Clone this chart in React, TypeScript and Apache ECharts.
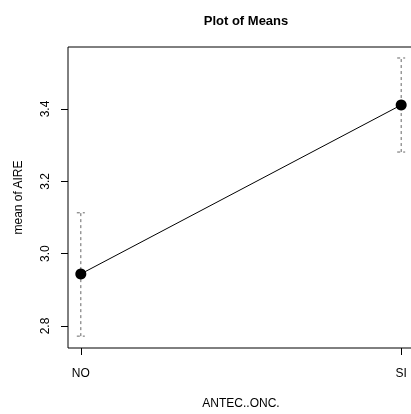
import React, { useEffect, useRef } from "react";
import * as echarts from "echarts";

const categories = ["NO", "SI"];
const means = [2.944, 3.411];
const lowerBounds = [2.772, 3.281];
const upperBounds = [3.113, 3.541];
const yTicks = [2.8, 3.0, 3.2, 3.4];

export default function App() {
  const ref = useRef<HTMLDivElement>(null);
  useEffect(() => {
    if (!ref.current) return;
    const chart = echarts.init(ref.current, null, { renderer: "svg" });
    const font = "'Liberation Sans', Arial, Helvetica, sans-serif";
    const xs = categories.map((_, i) => i + 1);
    chart.setOption({
      animation: false,
      textStyle: { fontFamily: font },
      title: {
        text: "Plot of Means",
        left: 241,
        textAlign: "center",
        top: 9,
        textStyle: { fontFamily: font, fontSize: 13, fontWeight: "bold", color: "#000" },
      },
      grid: {
        left: 68,
        top: 47,
        width: 346,
        height: 301,
        outerBoundsMode: "none",
        containLabel: false,
        show: true,
        borderColor: "#000",
        borderWidth: 1,
        backgroundColor: "transparent",
      },
      xAxis: {
        type: "value",
        min: 0.96,
        max: 2.04,
        name: "ANTEC..ONC.",
        nameLocation: "middle",
        nameGap: 49,
        nameTextStyle: { fontFamily: font, fontSize: 12, color: "#000" },
        axisLine: { show: false },
        splitLine: { show: false },
        axisTick: { show: true, inside: false, length: 7, customValues: xs, lineStyle: { color: "#000" } },
        axisLabel: {
          show: true,
          customValues: xs,
          margin: 19,
          fontSize: 12,
          color: "#000",
          fontFamily: font,
          formatter: (v: number) => categories[Math.round(v) - 1] ?? "",
        },
      },
      yAxis: {
        type: "value",
        min: 2.7392,
        max: 3.5714,
        name: "mean of AIRE",
        nameLocation: "middle",
        nameGap: 44,
        nameRotate: 90,
        nameTextStyle: { fontFamily: font, fontSize: 12, color: "#000" },
        axisLine: { show: false },
        splitLine: { show: false },
        axisTick: { show: true, inside: false, length: 7, customValues: yTicks, lineStyle: { color: "#000" } },
        axisLabel: {
          show: true,
          customValues: yTicks,
          rotate: 90,
          margin: 17,
          fontSize: 12,
          color: "#000",
          fontFamily: font,
          formatter: (v: number) => v.toFixed(1),
        },
      },
      series: [
        {
          type: "custom",
          data: xs.map((x, i) => [x, lowerBounds[i], upperBounds[i]]),
          renderItem: (params: any, api: any) => {
            const x = api.value(0);
            const lo = api.coord([x, api.value(1)]);
            const hi = api.coord([x, api.value(2)]);
            const style = { stroke: "#666", lineWidth: 1, lineDash: [3, 3] };
            const cw = 4;
            return {
              type: "group",
              children: [
                { type: "line", shape: { x1: lo[0], y1: lo[1], x2: hi[0], y2: hi[1] }, style },
                { type: "line", shape: { x1: lo[0] - cw, y1: lo[1], x2: lo[0] + cw, y2: lo[1] }, style },
                { type: "line", shape: { x1: hi[0] - cw, y1: hi[1], x2: hi[0] + cw, y2: hi[1] }, style },
              ],
            };
          },
          z: 1,
        },
        {
          type: "line",
          data: xs.map((x, i) => [x, means[i]]),
          symbol: "circle",
          symbolSize: 11,
          itemStyle: { color: "#000" },
          lineStyle: { color: "#000", width: 1 },
          z: 2,
        },
      ],
    });
    return () => chart.dispose();
  }, []);
  return <div ref={ref} style={{ position: "fixed", left: 0, top: 0, width: 411, height: 414 }} />;
}
